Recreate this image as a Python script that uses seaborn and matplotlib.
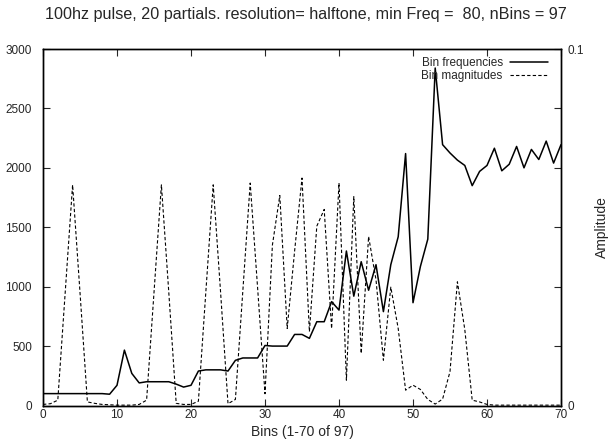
import matplotlib
matplotlib.use("Agg")
import matplotlib.pyplot as plt
import seaborn as sns
import pandas as pd

# ---- data ----
bins = list(range(71))
bin_frequencies = [100, 100, 100, 100, 100, 100, 100, 100, 100, 95,
                   170, 466, 270, 190, 200, 200, 200, 200, 180, 155,
                   170, 290, 300, 300, 300, 290, 380, 400, 400, 400,
                   505, 500, 500, 500, 598, 598, 565, 705, 705, 874,
                   803, 1300, 920, 1210, 970, 1185, 790, 1185, 1420, 2120,
                   865, 1170, 1400, 2840, 2195, 2125, 2065, 2020, 1850, 1970,
                   2020, 2165, 1975, 2030, 2180, 2000, 2155, 2070, 2225, 2040,
                   2195]
bin_magnitudes = [0.0003, 0.0005, 0.0015, 0.0317, 0.0619, 0.0317, 0.0010, 0.0006, 0.0003, 0.0002,
                  0.0001, 0.0001, 0.0001, 0.0003, 0.0015, 0.0317, 0.0619, 0.0317, 0.0006, 0.0003,
                  0.0003, 0.0012, 0.0317, 0.0619, 0.0317, 0.0005, 0.0017, 0.0320, 0.0624, 0.0330,
                  0.0033, 0.0450, 0.0589, 0.0216, 0.0433, 0.0638, 0.0207, 0.0503, 0.0550, 0.0216,
                  0.0624, 0.0071, 0.0586, 0.0146, 0.0474, 0.0353, 0.0127, 0.0332, 0.0216, 0.0043,
                  0.0057, 0.0045, 0.0017, 0.0004, 0.0018, 0.0095, 0.0347, 0.0213, 0.0015, 0.0010,
                  0.0003, 0.0001, 0.0001, 0.0001, 0.0001, 0.0001, 0.0001, 0.0001, 0.0001, 0.0001,
                  0.0001]
x_ticks = [0, 10, 20, 30, 40, 50, 60, 70]
y_ticks = [0, 500, 1000, 1500, 2000, 2500, 3000]
y2_ticks = [0, 0.1]
y2_labels = ["0", "0.1"]
title = "100hz pulse, 20 partials. resolution= halftone, min Freq =  80, nBins = 97"

df = pd.DataFrame({"bin": bins, "freq": bin_frequencies, "mag": bin_magnitudes})

sns.set_style("ticks")
plt.rcParams["font.family"] = ["Liberation Sans", "DejaVu Sans"]

fig = plt.figure(figsize=(6.11, 4.45), dpi=100)
ax = fig.add_axes([43 / 611, 1 - 405.5 / 445, (561 - 43) / 611, (405.5 - 49) / 445])
ax2 = ax.twinx()

sns.lineplot(data=df, x="bin", y="freq", ax=ax, color="black", linewidth=1.1,
             label="Bin frequencies", legend=False)
sns.lineplot(data=df, x="bin", y="mag", ax=ax2, color="black", linewidth=0.8,
             linestyle=(0, (3, 2)), label="Bin magnitudes", legend=False)

ax.set_xlim(0, 70)
ax.set_ylim(0, 3000)
ax2.set_ylim(0, 0.1)
ax.set_xticks(x_ticks)
ax.set_yticks(y_ticks)
ax2.set_yticks(y2_ticks)
ax2.set_yticklabels(y2_labels)

for a in (ax, ax2):
    for s in a.spines.values():
        s.set_visible(True)
        s.set_linewidth(1.0)
        s.set_color("black")

ax.tick_params(axis="x", direction="in", top=True, length=5, width=0.8,
               labelsize=8.5, pad=2.5)
ax.tick_params(axis="y", direction="in", right=True, length=5, width=0.8,
               labelsize=8.5, pad=8)
ax2.tick_params(axis="y", direction="in", length=0, labelsize=8.5, pad=5)

ax.set_xlabel("Bins (1-70 of 97)", fontsize=10, labelpad=3)
ax.set_ylabel("")
ax2.set_ylabel("Amplitude", fontsize=10)
ax2.yaxis.set_label_coords(1.065, 0.5)
fig.text(0.5, 1 - 15 / 445, title, ha="center", va="center", fontsize=11.6)

h1, l1 = ax.get_legend_handles_labels()
h2, l2 = ax2.get_legend_handles_labels()
leg = ax2.legend(h1 + h2, l1 + l2, loc="upper right", frameon=False,
                 markerfirst=False, fontsize=8.5, handlelength=3.2,
                 handletextpad=0.6, labelspacing=0.1,
                 borderaxespad=0.3, bbox_to_anchor=(0.99, 1.0))

fig.savefig("out.png", dpi=100)
